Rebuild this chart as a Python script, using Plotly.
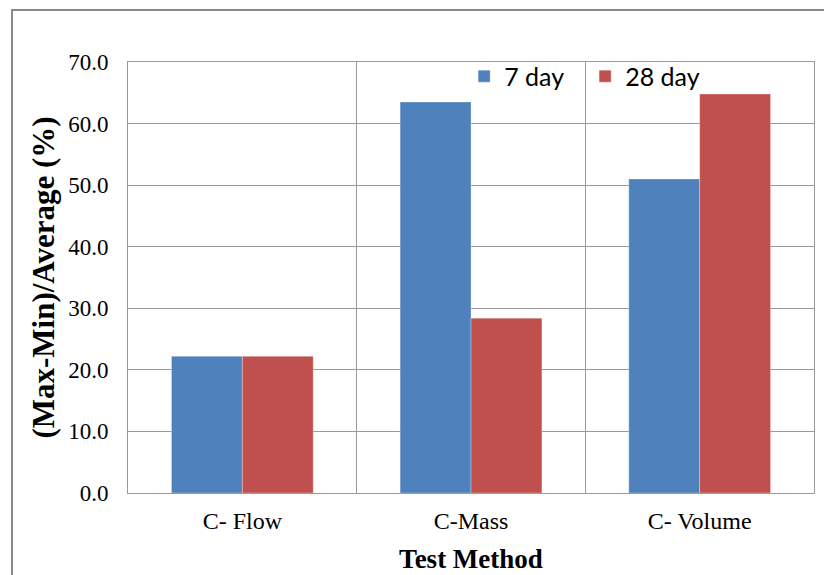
import plotly.graph_objects as go

categories = ["C- Flow", "C-Mass", "C- Volume"]
day7 = [22.2, 63.5, 51.0]
day28 = [22.2, 28.4, 64.8]
series_names = ["7 day", "28 day"]
colors = ["#4F81BD", "#C0504D"]

serif = "Liberation Serif, Times New Roman, serif"
sans = "Lato, Calibri, sans-serif"

fig = go.Figure()
for name, vals, col in zip(series_names, [day7, day28], colors):
    fig.add_trace(go.Bar(
        x=categories, y=vals, name=name,
        marker=dict(color=col, line=dict(color="rgba(255,255,255,0.5)", width=0.6)),
    ))

W, H = 824, 575
L, R, T, B = 128, 10, 62, 82
pw, ph = W - L - R, H - T - B

def px_to_paper_x(px):
    return (px - L) / pw

def px_to_paper_y(py):
    return (H - B - py) / ph

# outer chart frame
fig.add_shape(type="rect", xref="paper", yref="paper",
              x0=px_to_paper_x(12), x1=px_to_paper_x(840),
              y0=px_to_paper_y(590), y1=px_to_paper_y(10),
              line=dict(color="#8a8a8a", width=2), layer="below")

fig.update_layout(
    width=W, height=H,
    margin=dict(l=L, r=R, t=T, b=B, autoexpand=False),
    paper_bgcolor="white", plot_bgcolor="white",
    barmode="group", bargap=0.38, bargroupgap=0,
    showlegend=True,
    legend=dict(orientation="h", x=0.49, y=1.02, xanchor="left", yanchor="top",
                bgcolor="rgba(0,0,0,0)", font=dict(family=sans, size=25, color="#000"),
                itemwidth=30, traceorder="normal",
                entrywidth=76, entrywidthmode="pixels"),
    xaxis=dict(
        type="category", tickson="boundaries", showgrid=True, gridcolor="#9a9a9a",
        gridwidth=1, showline=True, linecolor="#9a9a9a", mirror=True, automargin=False,
        ticks="", ticklabelstandoff=6, tickfont=dict(family=serif, size=24, color="#000"),
        title=dict(text="<b>Test Method</b>", font=dict(family=serif, size=27, color="#000"),
                   standoff=16),
    ),
    yaxis=dict(
        range=[0, 70], dtick=10, tickformat=".1f", showgrid=True, gridcolor="#9a9a9a",
        gridwidth=1, showline=True, linecolor="#9a9a9a", mirror=True, automargin=False,
        ticks="", ticklabelstandoff=14, zeroline=False,
        tickfont=dict(family=serif, size=23, color="#000"),
        title=dict(text="<b>(Max-Min)/Average (%)</b>",
                   font=dict(family=serif, size=31, color="#000"), standoff=4),
    ),
)

fig.write_html("out.html")
